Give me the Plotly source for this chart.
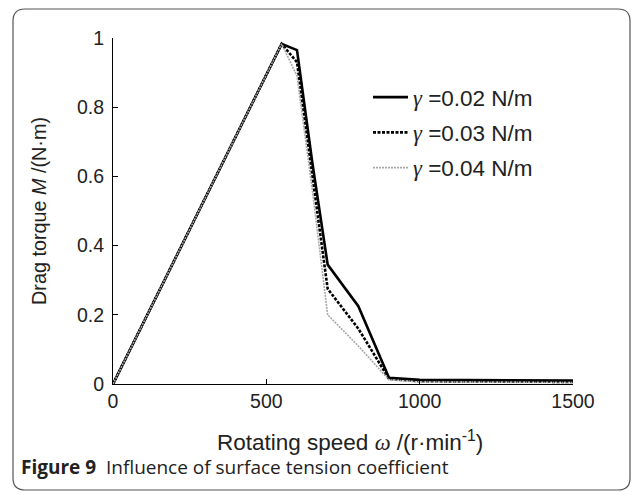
import plotly.graph_objects as go

speed = [0, 550, 600, 650, 700, 800, 900, 1000, 1500]
m_002 = [0, 0.983, 0.965, 0.64, 0.345, 0.225, 0.018, 0.012, 0.01]
m_003 = [0, 0.983, 0.93, 0.60, 0.275, 0.16, 0.015, 0.008, 0.006]
m_004 = [0, 0.983, 0.89, 0.56, 0.20, 0.11, 0.012, 0.006, 0.004]
names = ["0.02", "0.03", "0.04"]

W, H = 637, 496
L, R, T, B = 113, 573, 38, 384

def px(x):
    return (x - L) / (R - L)

def py(y):
    return (B - y) / (B - T)

SANS = "Arial, Liberation Sans, sans-serif"
serif = "Liberation Serif"

fig = go.Figure()
styles = [
    dict(color="black", width=2.6, dash="solid"),
    dict(color="black", width=2.6, dash="3px,1.5px"),
    dict(color="#a8a8a8", width=1.6, dash="2px,1px"),
]
for i, (vals, nm, st) in enumerate(zip([m_002, m_003, m_004], names, styles)):
    fig.add_trace(go.Scatter(
        x=speed, y=vals, mode="lines", line=st,
        name=f'<span style="font-family:{serif}"><i>γ</i></span> ={nm} N/m',
        legendgroup=f"g{i}",
    ))

# rounded frame
x0, x1, y0, y1, r = px(13), px(630), py(490), py(9), 12
rx = r / (R - L)
ry = r / (B - T)
path = (f"M {x0+rx},{y1} L {x1-rx},{y1} Q {x1},{y1} {x1},{y1-ry} "
        f"L {x1},{y0+ry} Q {x1},{y0} {x1-rx},{y0} L {x0+rx},{y0} "
        f"Q {x0},{y0} {x0},{y0+ry} L {x0},{y1-ry} Q {x0},{y1} {x0+rx},{y1} Z")
fig.add_shape(type="path", path=path, xref="paper", yref="paper",
              line=dict(color="#555555", width=1.2), layer="below")

# x-axis title (placed slightly right of centre, as in the reference)
fig.add_annotation(
    x=px(350), y=py(441), xref="paper", yref="paper", xanchor="center", yanchor="middle",
    text=f'Rotating speed <span style="font-family:{serif}"><i>ω</i></span> /(r·min<sup>-1</sup>)',
    showarrow=False, font=dict(family=SANS, size=22.5, color="#222222"),
)

fig.add_annotation(
    x=px(19), y=py(467), xref="paper", yref="paper", xanchor="left", yanchor="middle",
    text="<b>Figure 9</b>  Influence of surface tension coefficient",
    showarrow=False, font=dict(family="Open Sans", size=19, color="#222222"),
)

fig.update_layout(
    width=W, height=H,
    margin=dict(l=L, r=W - R, t=T, b=H - B),
    paper_bgcolor="white", plot_bgcolor="white",
    font=dict(family=SANS, size=19, color="#222222"),
    showlegend=True,
    legend=dict(x=px(368), y=py(76), xanchor="left", yanchor="top",
                bgcolor="rgba(0,0,0,0)", font=dict(family=SANS, size=22.5),
                tracegroupgap=3, itemwidth=35),
    xaxis=dict(
        range=[0, 1500], tickvals=[0, 500, 1000, 1500],
        ticks="inside", ticklen=5, tickcolor="black",
        tickfont=dict(family=SANS, size=19.5, color="#222222"),
        showline=True, linecolor="black", linewidth=1,
        showgrid=False, zeroline=False, automargin=False,
    ),
    yaxis=dict(
        range=[0, 1], tickvals=[0, 0.2, 0.4, 0.6, 0.8, 1],
        ticktext=["0", "0.2", "0.4", "0.6", "0.8", "1"],
        ticks="inside", ticklen=5, tickcolor="black",
        tickfont=dict(family=SANS, size=19.5, color="#222222"),
        ticklabelstandoff=4,
        showline=True, linecolor="black", linewidth=1,
        showgrid=False, zeroline=False, automargin=False,
        title=dict(text="Drag torque <i>M</i> /(N·m)", standoff=25,
                   font=dict(family=SANS, size=19.8)),
    ),
)

fig.write_html("out.html", config={"displayModeBar": False},
               post_script="document.body.style.margin='0';")
